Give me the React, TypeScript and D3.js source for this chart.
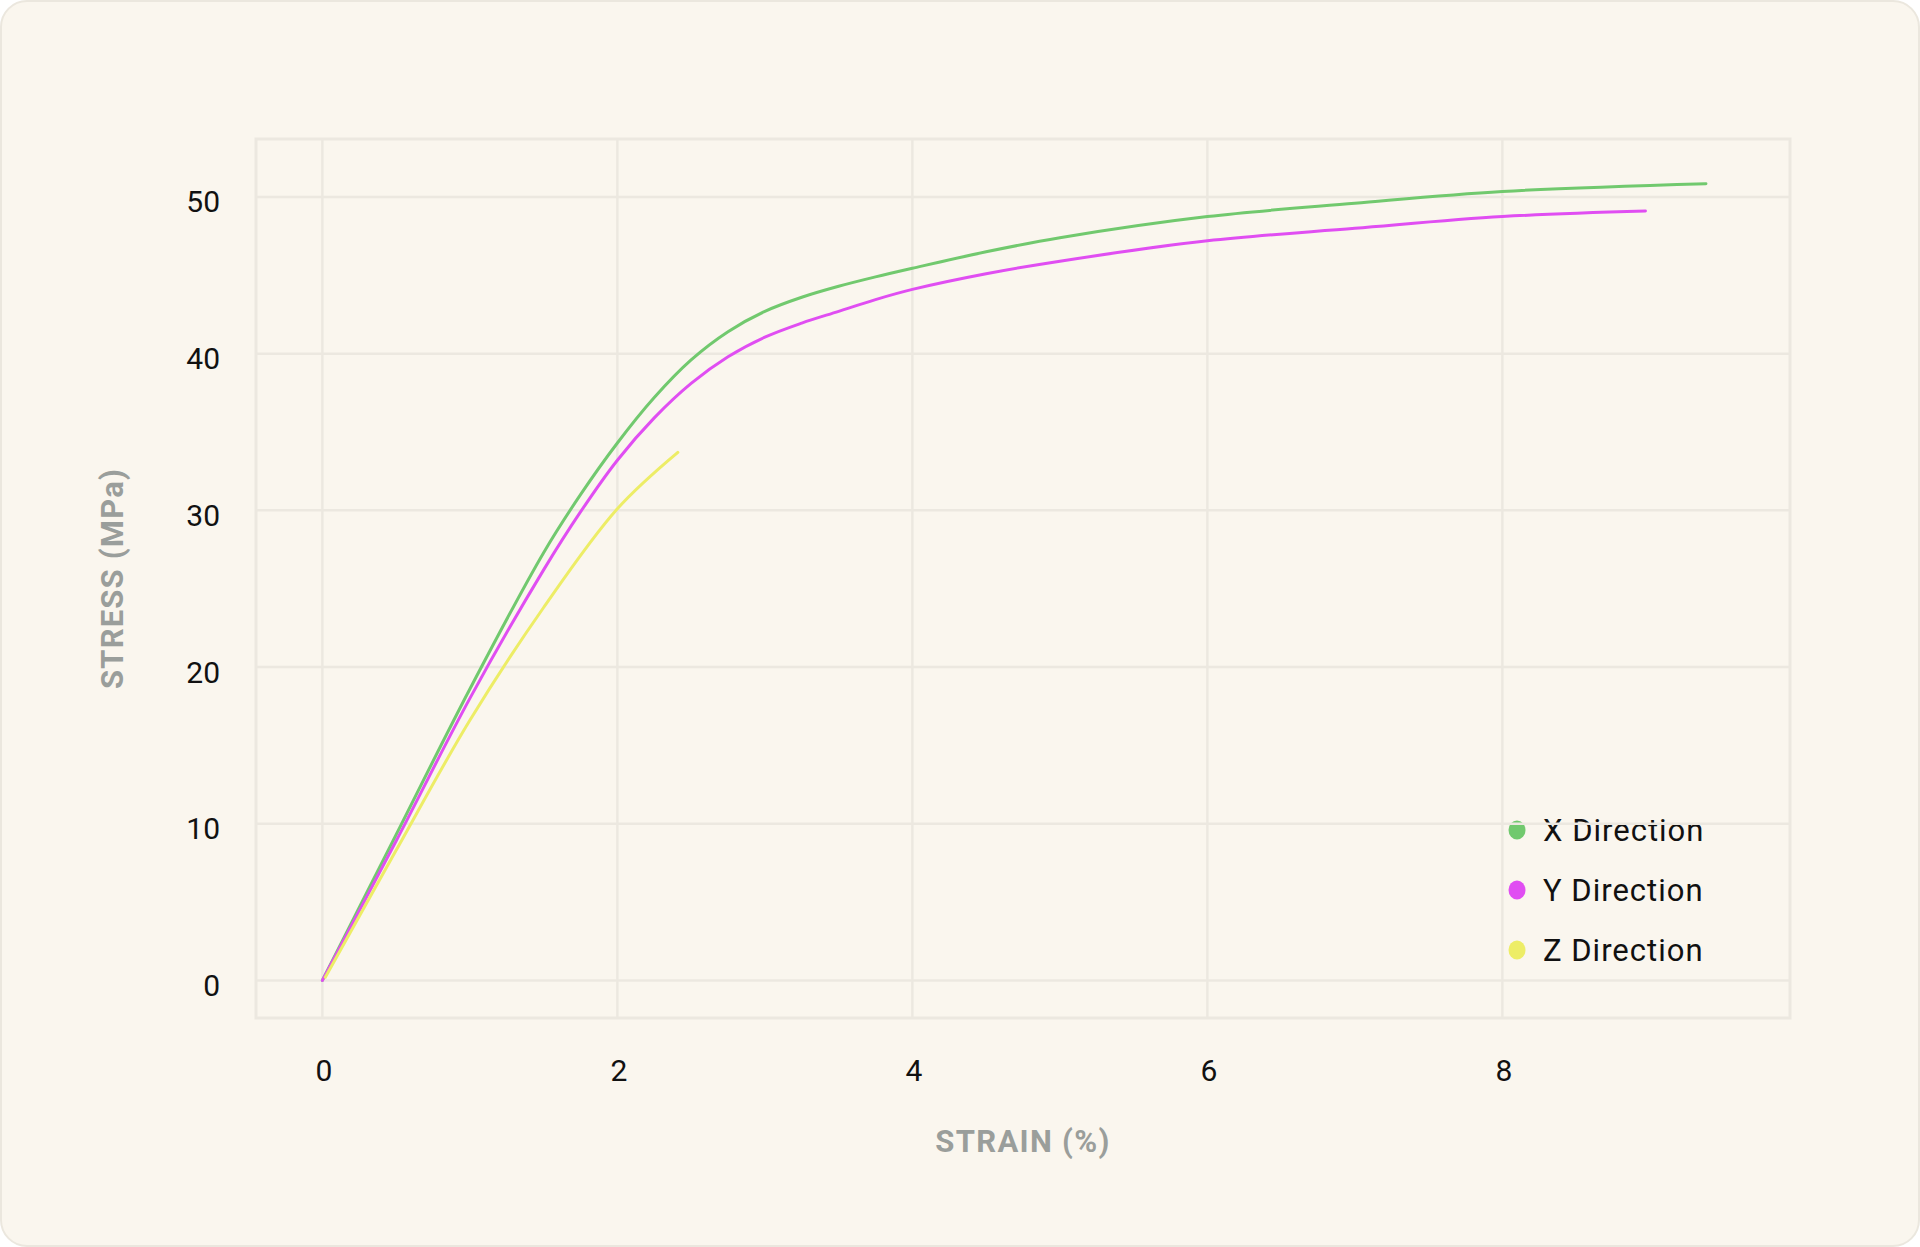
import * as d3 from "d3";

type Pt = { strain: number; stress: number };

// strain (%) / stress (MPa)
const xDirection: Pt[] = [
  { strain: 0, stress: 0 },
  { strain: 0.5, stress: 9.3 },
  { strain: 1.0, stress: 18.6 },
  { strain: 1.5, stress: 27.3 },
  { strain: 1.75, stress: 31.0 },
  { strain: 2.0, stress: 34.3 },
  { strain: 2.25, stress: 37.2 },
  { strain: 2.5, stress: 39.6 },
  { strain: 2.75, stress: 41.4 },
  { strain: 3.0, stress: 42.7 },
  { strain: 3.25, stress: 43.6 },
  { strain: 3.5, stress: 44.3 },
  { strain: 3.75, stress: 44.9 },
  { strain: 4.0, stress: 45.45 },
  { strain: 4.5, stress: 46.5 },
  { strain: 5.0, stress: 47.4 },
  { strain: 6.0, stress: 48.75 },
  { strain: 7.0, stress: 49.6 },
  { strain: 8.0, stress: 50.35 },
  { strain: 9.38, stress: 50.85 },
];

const yDirection: Pt[] = [
  { strain: 0, stress: 0 },
  { strain: 0.5, stress: 8.9 },
  { strain: 1.0, stress: 18.0 },
  { strain: 1.5, stress: 26.2 },
  { strain: 1.75, stress: 29.9 },
  { strain: 2.0, stress: 33.2 },
  { strain: 2.25, stress: 35.9 },
  { strain: 2.5, stress: 38.1 },
  { strain: 2.75, stress: 39.8 },
  { strain: 3.0, stress: 41.05 },
  { strain: 3.25, stress: 41.95 },
  { strain: 3.5, stress: 42.7 },
  { strain: 3.75, stress: 43.45 },
  { strain: 4.0, stress: 44.1 },
  { strain: 4.5, stress: 45.1 },
  { strain: 5.0, stress: 45.9 },
  { strain: 6.0, stress: 47.2 },
  { strain: 7.0, stress: 48.0 },
  { strain: 8.0, stress: 48.75 },
  { strain: 8.97, stress: 49.1 },
];

const zDirection: Pt[] = [
  { strain: 0.02, stress: 0.2 },
  { strain: 0.5, stress: 8.3 },
  { strain: 1.0, stress: 16.6 },
  { strain: 1.5, stress: 23.8 },
  { strain: 2.0, stress: 30.1 },
  { strain: 2.41, stress: 33.7 },
];

const seriesNames = ["X Direction", "Y Direction", "Z Direction"];
const seriesColors = ["#71c96e", "#e04ef2", "#eded66"];
const xTicks = [0, 2, 4, 6, 8];
const yTicks = [0, 10, 20, 30, 40, 50];

const W = 1920;
const H = 1247;
const plot = { left: 256, right: 1790, top: 139, bottom: 1018 };
const gridColor = "#ece8e0";
const font = "Roboto, 'Noto Sans', sans-serif";

export default function App() {
  const x = d3.scaleLinear().domain([-0.45, 9.95]).range([plot.left, plot.right]);
  const y = d3.scaleLinear().domain([-2.4, 53.7]).range([plot.bottom, plot.top]);

  const line = d3
    .line<Pt>()
    .x((d) => x(d.strain))
    .y((d) => y(d.stress))
    .curve(d3.curveCatmullRom.alpha(0.5));

  const series = [xDirection, yDirection, zDirection];

  return (
    <>
      <style>{"body{margin:0}"}</style>
      <svg width={W} height={H} style={{ display: "block" }}>
        <rect
          x={1}
          y={1}
          width={W - 2}
          height={H - 2}
          rx={26}
          fill="#faf6ee"
          stroke="#ebe7de"
          strokeWidth={2}
        />

        {/* legend sits under the grid, like the reference */}
        <g fontFamily={font} fontSize={31} fill="#111" letterSpacing={1}>
          {seriesNames.map((name, i) => (
            <g key={name} transform={`translate(1517, ${830 + i * 60})`}>
              <ellipse rx={8.5} ry={9.5} fill={seriesColors[i]} />
              <text x={26} y={11}>
                {name}
              </text>
            </g>
          ))}
        </g>

        <g stroke={gridColor} strokeWidth={2.5}>
          {xTicks.map((t) => (
            <line key={"gx" + t} x1={x(t)} x2={x(t)} y1={plot.top} y2={plot.bottom} />
          ))}
          {yTicks.map((t) => (
            <line key={"gy" + t} x1={plot.left} x2={plot.right} y1={y(t)} y2={y(t)} />
          ))}
          <rect
            x={plot.left}
            y={plot.top}
            width={plot.right - plot.left}
            height={plot.bottom - plot.top}
            fill="none"
            strokeWidth={3}
          />
        </g>

        <g fill="none" strokeWidth={3} strokeLinecap="round">
          {series.map((s, i) => (
            <path key={seriesNames[i]} d={line(s) || ""} stroke={seriesColors[i]} />
          ))}
        </g>

        <g fontFamily={font} fontSize={30} fill="#111">
          {yTicks.map((t) => (
            <text key={"ty" + t} x={220} y={y(t) + 5} textAnchor="end" dominantBaseline="central">
              {t}
            </text>
          ))}
          {xTicks.map((t) => (
            <text key={"tx" + t} x={x(t) + 1.5} y={1070} textAnchor="middle" dominantBaseline="central">
              {t}
            </text>
          ))}
        </g>

        <text
          x={(plot.left + plot.right) / 2}
          y={1152}
          textAnchor="middle"
          fontFamily={font}
          fontSize={31}
          fontWeight={700}
          fill="#9a9e9b"
          letterSpacing={1.3}
        >
          STRAIN (%)
        </text>
        <text
          transform={`translate(123, ${(plot.top + plot.bottom) / 2}) rotate(-90)`}
          textAnchor="middle"
          fontFamily={font}
          fontSize={31}
          fontWeight={700}
          fill="#9a9e9b"
          letterSpacing={1.2}
        >
          STRESS (MPa)
        </text>
      </svg>
    </>
  );
}
